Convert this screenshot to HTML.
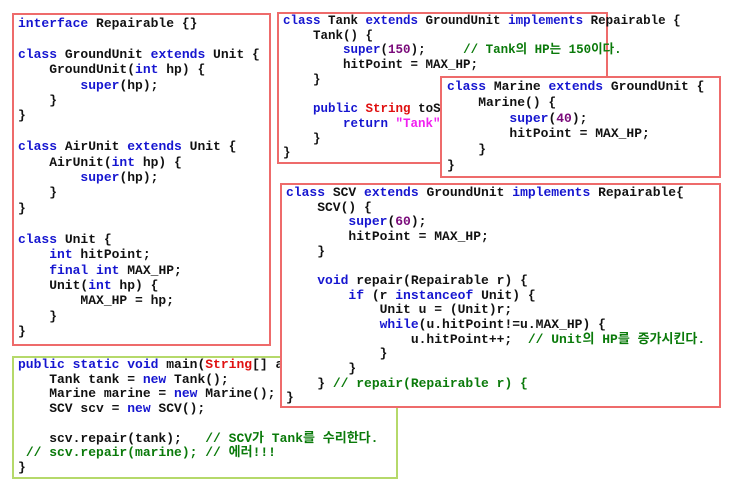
<!DOCTYPE html>
<html><head><meta charset="utf-8"><style>
body{margin:0;width:750px;height:486px;background:#fff;position:relative;overflow:hidden}
.b{position:absolute;background:#fff;border:2px solid #ee6b6b;box-sizing:border-box}
.g{border-color:#b5d96a}
pre{position:absolute;margin:0;font-family:"Liberation Mono","Noto Sans CJK KR",monospace;font-weight:bold;font-size:13px;line-height:15.4px;color:#111}
.k{color:#1515d0}.c{color:#0a7a0a}.n{color:#7a0a7a}.r{color:#e01010}.m{color:#f020f0}
</style></head><body>
<div class="b" style="left:12px;top:13px;width:259px;height:333px"></div>
<pre style="left:18px;top:16px"><span class="k">interface</span> Repairable {}

<span class="k">class</span> GroundUnit <span class="k">extends</span> Unit {
    GroundUnit(<span class="k">int</span> hp) {
        <span class="k">super</span>(hp);
    }
}

<span class="k">class</span> AirUnit <span class="k">extends</span> Unit {
    AirUnit(<span class="k">int</span> hp) {
        <span class="k">super</span>(hp);
    }
}

<span class="k">class</span> Unit {
    <span class="k">int</span> hitPoint;
    <span class="k">final int</span> MAX_HP;
    Unit(<span class="k">int</span> hp) {
        MAX_HP = hp;
    }
}</pre>

<div class="b" style="left:277px;top:12px;width:331px;height:152px"></div>
<pre style="left:283px;top:14px;font-size:12.5px;line-height:14.7px"><span class="k">class</span> Tank <span class="k">extends</span> GroundUnit <span class="k">implements</span> Repairable {
    Tank() {
        <span class="k">super</span>(<span class="n">150</span>);     <span class="c">// Tank의 HP는 150이다.</span>
        hitPoint = MAX_HP;
    }

    <span class="k">public</span> <span class="r">String</span> toString() {
        <span class="k">return</span> <span class="m">"Tank"</span>;
    }
}</pre>

<div class="b" style="left:440px;top:76px;width:281px;height:102px"></div>
<pre style="left:447px;top:79px;line-height:15.8px"><span class="k">class</span> Marine <span class="k">extends</span> GroundUnit {
    Marine() {
        <span class="k">super</span>(<span class="n">40</span>);
        hitPoint = MAX_HP;
    }
}</pre>

<div class="b g" style="left:12px;top:356px;width:386px;height:123px"></div>
<pre style="left:18px;top:358px;line-height:14.7px"><span class="k">public static void</span> main(<span class="r">String</span>[] args) {
    Tank tank = <span class="k">new</span> Tank();
    Marine marine = <span class="k">new</span> Marine();
    SCV scv = <span class="k">new</span> SCV();

    scv.repair(tank);   <span class="c">// SCV가 Tank를 수리한다.</span>
 <span class="c">// scv.repair(marine); // 에러!!!</span>
}</pre>

<div class="b" style="left:280px;top:183px;width:441px;height:225px"></div>
<pre style="left:286px;top:186px;line-height:14.65px"><span class="k">class</span> SCV <span class="k">extends</span> GroundUnit <span class="k">implements</span> Repairable{
    SCV() {
        <span class="k">super</span>(<span class="n">60</span>);
        hitPoint = MAX_HP;
    }

    <span class="k">void</span> repair(Repairable r) {
        <span class="k">if</span> (r <span class="k">instanceof</span> Unit) {
            Unit u = (Unit)r;
            <span class="k">while</span>(u.hitPoint!=u.MAX_HP) {
                u.hitPoint++;  <span class="c">// Unit의 HP를 증가시킨다.</span>
            }
        }
    } <span class="c">// repair(Repairable r) {</span>
}</pre>
</body></html>
